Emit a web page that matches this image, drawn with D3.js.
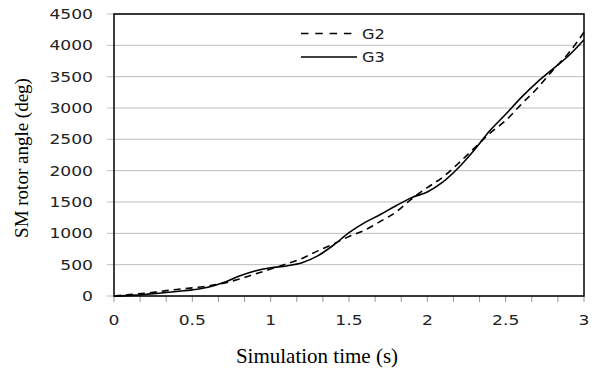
<!DOCTYPE html>
<html><head><meta charset="utf-8">
<script src="https://cdn.jsdelivr.net/npm/d3@7/dist/d3.min.js"></script>
<style>body{margin:0;background:#fff}svg{display:block}</style>
</head><body>
<svg id="c" width="595" height="372"></svg>
<script>
const times = [0,0.1,0.2,0.3,0.4,0.5,0.6,0.7,0.8,0.9,1.0,1.1,1.2,1.3,1.4,1.5,1.6,1.7,1.8,1.9,2.0,2.1,2.2,2.3,2.4,2.5,2.6,2.7,2.8,2.9,3.0];
const g2 = [0,22,45,75,105,130,160,205,270,350,430,510,600,720,830,950,1050,1190,1340,1550,1730,1900,2120,2360,2600,2800,3060,3310,3600,3870,4210];
const g3 = [0,10,25,48,72,98,140,215,320,400,450,480,530,640,810,1010,1170,1300,1440,1570,1660,1820,2050,2330,2640,2900,3170,3410,3620,3830,4090];
const yTicks = [0,500,1000,1500,2000,2500,3000,3500,4000,4500];
const xLabels = [0,0.5,1,1.5,2,2.5,3];
const seriesNames = ["G2","G3"];

const svg = d3.select("#c");
const L=114, R=584, T=14, B=296;
const x = d3.scaleLinear().domain([0,3]).range([L,R]);
const y = d3.scaleLinear().domain([0,4500]).range([B,T]);
const sansFont = "'DejaVu Sans', Verdana, sans-serif";
const serifFont = "'Liberation Serif', 'Times New Roman', serif";

// gridlines
svg.append("g").selectAll("line").data(yTicks).join("line")
  .attr("x1",L-7).attr("x2",R).attr("y1",d=>y(d)).attr("y2",d=>y(d))
  .attr("stroke","#bdbdbd").attr("stroke-width",1);

// x minor ticks every 1/6 s
const xt = d3.range(0,19).map(i=>i/6);
svg.append("g").selectAll("line").data(xt).join("line")
  .attr("x1",d=>x(d)).attr("x2",d=>x(d)).attr("y1",B).attr("y2",B+6)
  .attr("stroke","#9a9a9a").attr("stroke-width",1);

// y tick labels
svg.append("g").selectAll("text").data(yTicks).join("text")
  .attr("transform",d=>`translate(93,${y(d)+5}) scale(1.27,1)`)
  .attr("text-anchor","end").attr("font-family",sansFont).attr("font-size",13.5)
  .attr("fill","#222").text(d=>d);

// x tick labels
svg.append("g").selectAll("text").data(xLabels).join("text")
  .attr("transform",d=>`translate(${x(d)},325) scale(1.27,1)`)
  .attr("text-anchor","middle").attr("font-family",sansFont).attr("font-size",13.5)
  .attr("fill","#222").text(d=>d);

// frame
svg.append("rect").attr("x",L).attr("y",T).attr("width",R-L).attr("height",B-T)
  .attr("fill","none").attr("stroke","#000").attr("stroke-width",1.5);

// lines
const line = d3.line().x((d,i)=>x(times[i])).y(d=>y(d)).curve(d3.curveMonotoneX);
svg.append("path").datum(g2).attr("d",line).attr("fill","none")
  .attr("stroke","#000").attr("stroke-width",1.6).attr("stroke-dasharray","7,5");
svg.append("path").datum(g3).attr("d",line).attr("fill","none")
  .attr("stroke","#000").attr("stroke-width",1.6);

// legend
const leg = svg.append("g");
leg.append("line").attr("x1",301).attr("x2",354).attr("y1",33.5).attr("y2",33.5)
  .attr("stroke","#000").attr("stroke-width",1.4).attr("stroke-dasharray","7.5,6.8");
leg.append("line").attr("x1",301).attr("x2",357).attr("y1",57).attr("y2",57)
  .attr("stroke","#000").attr("stroke-width",1.4);
leg.append("text").attr("transform","translate(362,39) scale(1.2,1)")
  .attr("font-family",sansFont).attr("font-size",13.5).attr("fill","#222").text(seriesNames[0]);
leg.append("text").attr("transform","translate(362,62) scale(1.2,1)")
  .attr("font-family",sansFont).attr("font-size",13.5).attr("fill","#222").text(seriesNames[1]);

// axis titles
svg.append("text").attr("x",317).attr("y",363).attr("text-anchor","middle")
  .attr("font-family",serifFont).attr("font-size",21).attr("fill","#000").text("Simulation time (s)");
svg.append("text").attr("transform","translate(28,158) rotate(-90)").attr("text-anchor","middle")
  .attr("font-family",serifFont).attr("font-size",19).attr("fill","#000").text("SM rotor angle (deg)");
</script>
</body></html>
